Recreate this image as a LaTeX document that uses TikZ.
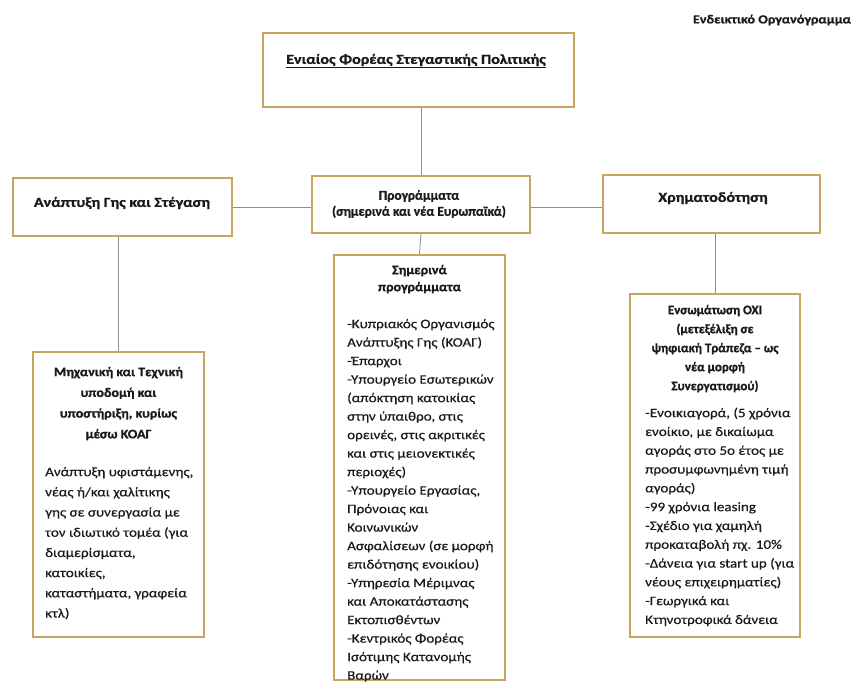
\documentclass[tikz,border=0pt]{standalone}
\usepackage{fontspec}
\setmainfont{Carlito}[BoldFeatures={FakeBold=0.9}]
\newfontfamily\widefont{Carlito}[FakeStretch=1.15, BoldFeatures={FakeBold=0.9}]
\newfontfamily\widebody{Carlito}[FakeStretch=1.16, FakeBold=0.45]
\newfontfamily\midfont{Carlito}[FakeStretch=1.08, BoldFeatures={FakeBold=0.9}]
\definecolor{boxc}{HTML}{C9A460}
\definecolor{linec}{HTML}{8E8E8E}
\definecolor{textc}{HTML}{1A1A1A}
\begin{document}
\begin{tikzpicture}[x=1pt,y=-1pt,
  box/.style={draw=boxc, line width=1.4pt, fill=white, inner sep=0pt},
  conn/.style={draw=linec, line width=0.8pt},
  txt/.style={inner sep=0pt, text=textc},
  head/.style={txt, font=\widefont\bfseries\fontsize{14}{17}\selectfont},
  subhead/.style={txt, align=center, anchor=north},
  body/.style={txt, align=left, anchor=north west},
]
\useasboundingbox[fill=white] (0,0) rectangle (859,684);

% boxes
\node[box, line width=1.8pt, minimum width=311pt, minimum height=74pt] (top) at (418.5,70) {};
\node[box, minimum width=219pt, minimum height=58pt] (land) at (122.5,207) {};
\node[box, minimum width=218pt, minimum height=57pt] (prog) at (421,204.5) {};
\node[box, minimum width=217pt, minimum height=58pt] (fin) at (711.5,204) {};
\node[box, minimum width=171pt, minimum height=285pt] (eng) at (118.5,494.5) {};
\node[box, minimum width=171pt, minimum height=425pt] (cur) at (419.5,467.5) {};
\node[box, minimum width=170pt, minimum height=343pt] (oxi) at (715,465.5) {};

% connectors
\draw[conn] (prog.north |- top.south) -- (prog.north);
\draw[conn] (land.east) -- (land.east -| prog.west);
\draw[conn] (prog.east |- land.east) -- (prog.east |- land.east -| fin.west);
\draw[conn] (eng.north |- land.south) -- (eng.north);
\draw[conn] (prog.south) -- (cur.north);
\draw[conn] (oxi.north |- fin.south) -- (oxi.north);

% titles
\node[txt, font=\widefont\bfseries\fontsize{12.3}{14}\selectfont] (doc) at (772,20) {Ενδεικτικό Οργανόγραμμα};
\node[head] (ttop) at (416,61) {\underline{Ενιαίος Φορέας Στεγαστικής Πολιτικής}};
\node[head] (tland) at (122,203) {Ανάπτυξη Γης και Στέγαση};
\node[txt, align=center, font=\bfseries\fontsize{13.5}{16}\selectfont] (tprog) at (419,204) {Προγράμματα\\(σημερινά και νέα Ευρωπαϊκά)};
\node[head] (tfin) at (713,198) {Χρηματοδότηση};

% lower left
\node[subhead, font=\midfont\bfseries\fontsize{13}{20.7}\selectfont] (heng) at (118.5,361.5)
 {\strut Μηχανική και Τεχνική\\υποδομή και\\υποστήριξη, κυρίως\\μέσω ΚΟΑΓ};
\node[body, font=\widebody\fontsize{13}{20.2}\selectfont] (beng) at (45,461.8)
 {\strut Ανάπτυξη υφιστάμενης,\\νέας ή/και χαλίτικης\\γης σε συνεργασία με\\τον ιδιωτικό τομέα (για\\διαμερίσματα,\\κατοικίες,\\καταστήματα, γραφεία\\κτλ)};

% middle
\node[subhead, font=\midfont\bfseries\fontsize{13}{17}\selectfont] (hcur) at (419.5,262.1)
 {\strut Σημερινά\\προγράμματα};
\node[body, font=\widebody\fontsize{13}{18.5}\selectfont] (bcur) at (347,315)
 {\strut -Κυπριακός Οργανισμός\\Ανάπτυξης Γης (ΚΟΑΓ)\\-Έπαρχοι\\-Υπουργείο Εσωτερικών\\(απόκτηση κατοικίας\\στην ύπαιθρο, στις\\ορεινές, στις ακριτικές\\και στις μειονεκτικές\\περιοχές)\\-Υπουργείο Εργασίας,\\Πρόνοιας και\\Κοινωνικών\\Ασφαλίσεων (σε μορφή\\επιδότησης ενοικίου)\\-Υπηρεσία Μέριμνας\\και Αποκατάστασης\\Εκτοπισθέντων\\-Κεντρικός Φορέας\\Ισότιμης Κατανομής\\Βαρών};

% right
\node[subhead, font=\bfseries\fontsize{13}{19}\selectfont] (hoxi) at (715,300.7)
 {\strut Ενσωμάτωση ΟΧΙ\\(μετεξέλιξη σε\\ψηφιακή Τράπεζα – ως\\νέα μορφή\\Συνεργατισμού)};
\node[body, font=\widebody\fontsize{13}{18.8}\selectfont] (boxi) at (645,403.8)
 {\strut -Ενοικιαγορά, (5 χρόνια\\ενοίκιο, με δικαίωμα\\αγοράς στο 5ο έτος με\\προσυμφωνημένη τιμή\\αγοράς)\\-99 χρόνια leasing\\-Σχέδιο για χαμηλή\\προκαταβολή πχ. 10\%\\-Δάνεια για start up (για\\νέους επιχειρηματίες)\\-Γεωργικά και\\Κτηνοτροφικά δάνεια};
\end{tikzpicture}
\end{document}
